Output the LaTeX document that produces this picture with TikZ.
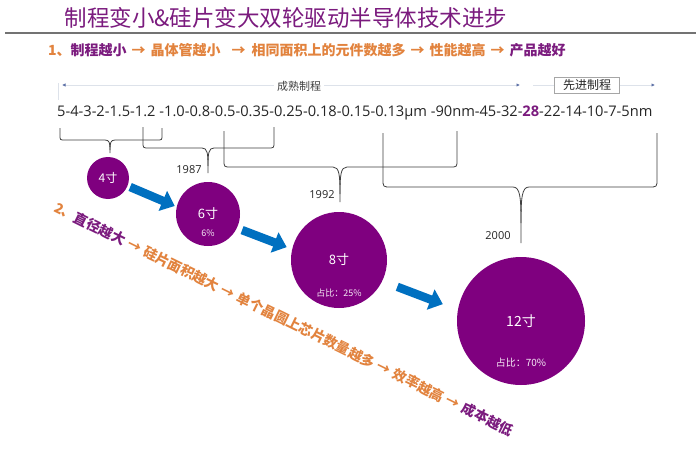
\documentclass[tikz,border=0pt]{standalone}
\usepackage{fontspec}
\setmainfont{Open Sans}
\newfontfamily\cjk{Noto Sans CJK SC}
\usetikzlibrary{arrows.meta}
\definecolor{pur}{HTML}{7B1B7E}
\definecolor{circ}{HTML}{7F007F}
\definecolor{org}{HTML}{E2833E}
\definecolor{blu}{HTML}{0070C0}
\definecolor{brc}{HTML}{404040}
\definecolor{tl}{HTML}{DDE2EA}
\definecolor{tipc}{HTML}{5B6FA6}
\newcommand\mybrace[9]{%
  \draw[bracestyle] (#1,#3) -- ({#1},{#4-#7}) .. controls (#1,#4) .. ({#1+#7},#4)
     -- ({#5-#8},#4) .. controls ({#5-0.1*#8},#4) and (#5,{#4+0.3*#9}) .. (#5,{#4+#9}) -- (#5,#6);
  \draw[bracestyle] (#2,#3) -- ({#2},{#4-#7}) .. controls (#2,#4) .. ({#2-#7},#4)
     -- ({#5+#8},#4) .. controls ({#5+0.1*#8},#4) and (#5,{#4+0.3*#9}) .. (#5,{#4+#9});
}
\newcommand\arr[1]{\hspace{#1}→\hspace{#1}}
\tikzset{
  bracestyle/.style={draw=brc, line width=0.8pt},
  wafer/.style={circle, fill=circ, inner sep=0pt, text=white, font=\cjk},
  wlab/.style={text=white!92!circ, inner sep=0pt, font=\cjk\fontsize{9}{9}\selectfont},
  bluearr/.style={draw=blu, line width=8.5pt, -{Triangle[length=13pt,width=21pt]}},
  yearlab/.style={inner sep=0pt, text=black!85, font=\fontsize{11}{11}\selectfont},
  tline/.style={draw=tl, line width=0.7pt},
  ttip/.tip={Latex[length=3.5pt,width=3.5pt,color=tipc]},
}
\begin{document}
\begin{tikzpicture}[x=1pt,y=-1pt]
\useasboundingbox[fill=white] (0,0) rectangle (696,460);
% title
\node[inner sep=0pt, text=pur, font=\cjk\fontsize{22.5}{22.5}\selectfont] (title) at (286,18) {制程变小\&硅片变大双轮驱动半导体技术进步};
\draw[draw=black!55, line width=1.6pt] (5,33) -- (696,33);
% line 1
\node[anchor=west, inner sep=0pt, font=\cjk\bfseries\fontsize{14}{14}\selectfont] (l1) at (48,50)
 {{\color{org}1、}{\color{pur}制程越小}{\color{org}\arr{5pt}晶体管越小\hspace{11pt}→\hspace{6pt}相同面积上的元件数越多\arr{5pt}性能越高\arr{5pt}}{\color{pur}产品越好}};
% timeline
\coordinate (ta) at (62,85);
\coordinate (tb) at (520,85);
\coordinate (tc) at (533,85);
\coordinate (td) at (655,85);
\coordinate (tk1) at (58,83);
\coordinate (tk2) at (58,100);
\draw[tline] (tk1) -- (tk2);
\draw[tline, ttip-ttip] (ta) -- (tb);
\draw[tline, -ttip] (tc) -- (td);
\node[fill=white, inner sep=3pt, text=black!75, font=\cjk\fontsize{11}{11}\selectfont] (mature) at (299,86) {成熟制程};
\node[fill=white, draw=black!35, line width=0.6pt, minimum width=65pt, minimum height=16pt, inner sep=0pt, text=black!85, font=\cjk\fontsize{12}{12}\selectfont] (adv) at (587,85) {先进制程};
% numbers row
\node[anchor=west, inner sep=0pt, text=black!85, font=\fontsize{14.65}{14.65}\selectfont] (nums) at (57,113)
 {5-4-3-2-1.5-1.2 -1.0-0.8-0.5-0.35-0.25-0.18-0.15-0.13μm -90nm-45-32-{\bfseries\color{pur}28}-22-14-10-7-5nm};
% braces
\mybrace{60}{162}{128}{140}{110}{153}{5}{5}{10}
\mybrace{143}{274}{127}{148}{208}{173}{6}{6}{18}
\mybrace{224}{457}{131}{167}{340}{202}{7}{7}{27}
\mybrace{383}{657}{133}{187}{521}{243}{8}{8}{36}
% years
\node[yearlab] (y87) at (189,170) {1987};
\node[yearlab] (y92) at (322,195) {1992};
\node[yearlab] (y00) at (498,236) {2000};
% wafers
\node[wafer, minimum size=42pt, font=\cjk\fontsize{12}{12}\selectfont] (w4) at (108,178) {4寸};
\node[wafer, minimum size=64pt, font=\cjk\fontsize{13}{13}\selectfont] (w6) at (208,214) {6寸};
\node[wafer, minimum size=96pt, font=\cjk\fontsize{13}{13}\selectfont] (w8) at (339,260) {8寸};
\node[wafer, minimum size=128pt, font=\cjk\fontsize{14}{14}\selectfont] (w12) at (521,321) {12寸};
\node[wlab] (p6) at (208,233) {6\%};
\node[wlab] (p8) at (339,293) {占比：25\%};
\node[wlab, font=\cjk\fontsize{10}{10}\selectfont] (p12) at (521,363) {占比：70\%};
% blue arrows
\draw[bluearr, shorten <=2.7pt, shorten >=2pt] (w4.-22) -- (w6.167);
\draw[bluearr, shorten <=5.5pt, shorten >=5.7pt] (w6.-26) -- (w8.167);
\draw[bluearr, shorten <=16pt, shorten >=16pt] (w8.-26.5) -- (w12.170);
% diagonal text
\node[inner sep=0pt, rotate=-26.2, font=\cjk\bfseries\fontsize{13.8}{13.8}\selectfont] (l2) at (284,319)
 {{\color{org}2、}{\color{pur}直径越大}{\color{org}\arr{4pt}硅片面积越大\arr{4pt}单个晶圆上芯片数量越多\arr{4pt}效率越高\arr{4pt}}{\color{pur}成本越低}};
\end{tikzpicture}
\end{document}
